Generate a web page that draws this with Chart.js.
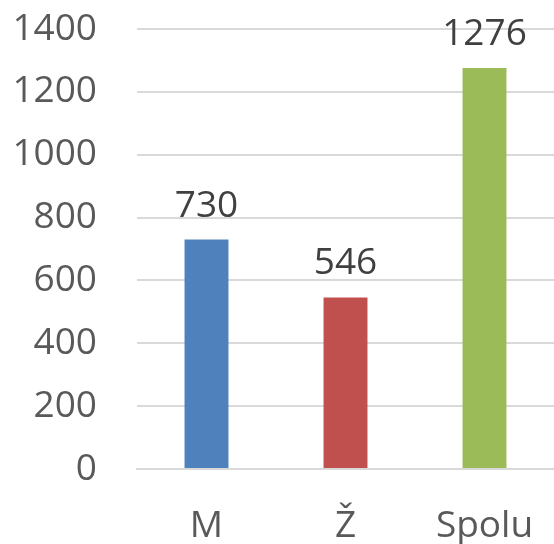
<!DOCTYPE html>
<html>
<head>
<meta charset="utf-8">
<script src="https://cdn.jsdelivr.net/npm/chart.js@4"></script>
<style>
  html, body { margin: 0; padding: 0; background: #fff; }
  #wrap { width: 554px; height: 544px; }
</style>
</head>
<body>
<div id="wrap"><canvas id="barChart" width="554" height="544"></canvas></div>
<script>
const categories = ['M', 'Ž', 'Spolu'];
const values = [730, 546, 1276];
const barColors = ['#4F81BD', '#C0504D', '#9BBB59'];
const yTicks = [0, 200, 400, 600, 800, 1000, 1200, 1400];

const FONT = "'Open Sans', sans-serif";

// value labels above each bar
const valueLabels = {
  id: 'valueLabels',
  afterDatasetsDraw(chart) {
    const c = chart.ctx;
    const meta = chart.getDatasetMeta(0);
    c.save();
    c.font = '37px ' + FONT;
    c.fillStyle = '#404040';
    c.textAlign = 'center';
    c.textBaseline = 'alphabetic';
    meta.data.forEach((bar, i) => {
      c.fillText(String(values[i]), bar.x, bar.y - 23);
    });
    c.restore();
  }
};

new Chart(document.getElementById('barChart').getContext('2d'), {
  type: 'bar',
  data: {
    labels: categories,
    datasets: [{
      data: values,
      backgroundColor: barColors,
      borderWidth: 0,
      barPercentage: 1,
      categoryPercentage: 0.316
    }]
  },
  options: {
    responsive: false,
    animation: false,
    layout: { padding: { top: 29, right: 0, left: 0, bottom: 0 } },
    plugins: {
      legend: { display: false },
      tooltip: { enabled: false }
    },
    scales: {
      x: {
        grid: { display: false, drawTicks: false },
        border: { color: '#d9d9d9', width: 2 },
        ticks: {
          color: '#595959',
          font: { size: 37, family: FONT },
          padding: 35
        },
        afterFit(scale) {
          scale.height = 75;
          scale.paddingLeft = 0;
          scale.paddingRight = 0;
        }
      },
      y: {
        min: 0,
        max: 1400,
        afterBuildTicks(scale) {
          scale.ticks = yTicks.map(v => ({ value: v }));
        },
        grid: { color: '#d9d9d9', lineWidth: 2, drawTicks: false },
        border: { display: false },
        ticks: {
          color: '#595959',
          font: { size: 37, family: FONT },
          padding: 40,
          callback: v => String(v)
        },
        afterFit(scale) {
          scale.width = 137;
          scale.paddingTop = 0;
          scale.paddingBottom = 0;
        }
      }
    }
  },
  plugins: [valueLabels]
});
</script>
</body>
</html>
